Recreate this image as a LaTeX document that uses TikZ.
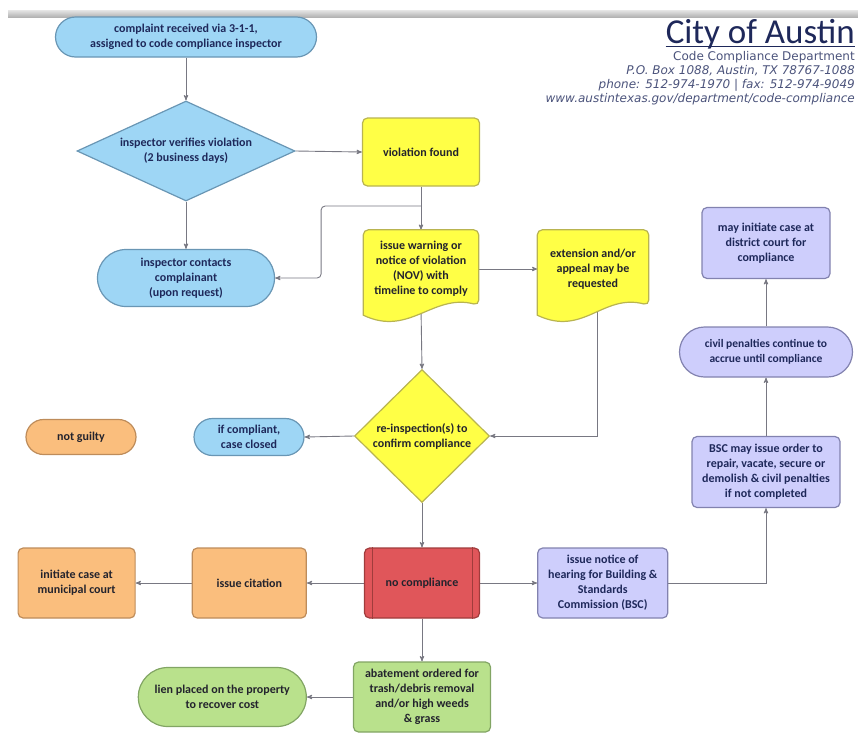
\documentclass[tikz,border=0pt]{standalone}
\usepackage{fontspec}
\setmainfont{Carlito}
\newfontfamily\headfont{DejaVu Sans}
\usetikzlibrary{shapes.geometric,shapes.misc,arrows,positioning,calc,backgrounds}

\definecolor{bluefill}{RGB}{158,214,245}
\definecolor{blueline}{RGB}{105,150,180}
\definecolor{yelfill}{RGB}{255,255,70}
\definecolor{yelline}{RGB}{185,180,80}
\definecolor{orfill}{RGB}{250,190,125}
\definecolor{orline}{RGB}{190,140,90}
\definecolor{redfill}{RGB}{224,86,90}
\definecolor{redline}{RGB}{160,60,60}
\definecolor{lavfill}{RGB}{206,206,252}
\definecolor{lavline}{RGB}{130,130,175}
\definecolor{grnfill}{RGB}{185,225,140}
\definecolor{grnline}{RGB}{130,165,100}
\definecolor{flowline}{RGB}{120,120,130}
\definecolor{navy}{RGB}{30,40,90}
\definecolor{darktext}{RGB}{35,35,45}

\tikzset{box/.style={rectangle,rounded corners=5pt,draw,line width=1.2pt,align=center,inner sep=1pt,font=\bfseries\fontsize{12}{15}\selectfont},
         capsule/.style={rounded rectangle,draw,line width=1.2pt,align=center,inner sep=1pt,font=\bfseries\fontsize{12}{15}\selectfont},
         decision/.style={diamond,draw,line width=1.2pt,inner sep=0pt},
         decision text/.style={align=center,inner sep=0pt,font=\bfseries\fontsize{12}{15}\selectfont},
         doc text/.style={rectangle,draw=none,align=center,inner sep=1pt,font=\bfseries\fontsize{12}{15}\selectfont},
         blue node/.style={fill=bluefill,draw=blueline,text=navy},
         yellow node/.style={fill=yelfill,draw=yelline,text=darktext},
         orange node/.style={fill=orfill,draw=orline,text=darktext},
         red node/.style={fill=redfill,draw=redline,text=darktext},
         purple node/.style={fill=lavfill,draw=lavline,text=navy},
         green node/.style={fill=grnfill,draw=grnline,text=darktext},
         head title/.style={anchor=base east,inner sep=0pt,text=navy,font=\fontsize{35}{35}\selectfont},
         head line/.style={anchor=base east,inner sep=0pt,text=navy!80,font=\headfont\fontsize{12}{13}\selectfont},
         flow/.style={->,draw=flowline,line width=0.9pt}
}

% document shape with a wavy bottom, drawn round a text node
\newcommand\docshape[3]{%
  \draw[fill=#2,draw=#3,line width=1.2pt,rounded corners=5pt]
    (#1.south west) -- (#1.north west) -- (#1.north east) -- ($(#1.south east)+(0,-3)$)
    [sharp corners] .. controls +(-46,-12) and +(46,22) .. ($(#1.south west)+(0,7)$) -- cycle;}

\begin{document}
\begin{tikzpicture}[x=1pt,y=-1pt,>=stealth']
\useasboundingbox (0,0) rectangle (858,734);

% header
\fill[top color=gray!20,bottom color=gray!60] (8,10) rectangle (858,17);
\node[head title] (city) at (855,43) {City of Austin};
\draw[navy,line width=0.9pt] ([yshift=-3pt]city.base west) -- ([yshift=-3pt]city.base east);
\node[head line] (dept) at (855,60) {Code Compliance Department};
\node[head line,font=\headfont\itshape\fontsize{12}{13}\selectfont] (pobox) at (855,74) {P.O. Box 1088, Austin, TX 78767-1088};
\node[head line,font=\headfont\itshape\fontsize{12}{13}\selectfont] (phone) at (855,88) {phone: 512-974-1970 | fax: 512-974-9049};
\node[head line,font=\headfont\itshape\fontsize{12}{13}\selectfont] (web) at (855,102) {www.austintexas.gov/department/code-compliance};

% intake
\node[capsule,blue node,minimum width=263pt,minimum height=40pt] (cmpl) at (186,37) {complaint received via 3-1-1,\\assigned to code compliance inspector};
\node[decision,blue node,minimum width=218pt,minimum height=100pt,
      label={[decision text,text=navy]center:inspector verifies violation\\(2 business days)}] (verify) at (186,151) {};
\node[box,yellow node,minimum width=117pt,minimum height=68pt] (found) at (421,152) {violation found};
\node[capsule,blue node,minimum width=179pt,minimum height=57pt] (contacts) at (186,278) {inspector contacts\\complainant\\(upon request)};
\node[doc text,text=darktext,minimum width=115pt,minimum height=78pt] (nov) at (421,269) {issue warning or\\notice of violation\\(NOV) with\\timeline to comply};
\node[doc text,text=darktext,minimum width=111pt,minimum height=78pt] (ext) at (593,269) {extension and/or\\appeal may be\\requested};

% re-inspection
\node[decision,yellow node,minimum width=135pt,minimum height=133pt,
      label={[decision text,text=darktext]center:re-inspection(s) to\\confirm compliance}] (reinsp) at (422,436) {};
\node[capsule,blue node,minimum width=112pt,minimum height=37pt] (closed) at (249,437) {if compliant,\\case closed};
\node[capsule,orange node,minimum width=112pt,minimum height=35pt] (notguilty) at (81,437) {not guilty};

% no compliance row
\node[box,red node,minimum width=115pt,minimum height=70pt] (nocomp) at (422,583) {no compliance};
\draw[redline,line width=0.8pt] ([xshift=8pt]nocomp.north west) -- ([xshift=8pt]nocomp.south west);
\draw[redline,line width=0.8pt] ([xshift=-8pt]nocomp.north east) -- ([xshift=-8pt]nocomp.south east);
\node[box,orange node,minimum width=114pt,minimum height=70pt,left=57pt of nocomp] (citation) {issue citation};
\node[box,orange node,minimum width=117pt,minimum height=70pt,left=56pt of citation] (municipal) {initiate case at\\municipal court};
\node[box,purple node,minimum width=130pt,minimum height=70pt,right=57pt of nocomp] (notice) {issue notice of\\hearing for Building \&\\Standards\\Commission (BSC)};

% BSC column
\node[box,purple node,minimum width=148pt,minimum height=71pt] (bsc) at (766,472) {BSC may issue order to\\repair, vacate, secure or\\demolish \& civil penalties\\if not completed};
\node[capsule,purple node,minimum width=175pt,minimum height=50pt,font=\bfseries\fontsize{11.5}{14.5}\selectfont] (civil) at (766,352) {civil penalties continue to\\accrue until compliance};
\node[box,purple node,minimum width=128pt,minimum height=71pt] (district) at (766,243) {may initiate case at\\district court for\\compliance};

% abatement
\node[box,green node,minimum width=137pt,minimum height=70pt] (abate) at (422,697) {abatement ordered for\\trash/debris removal\\and/or high weeds\\\& grass};
\node[capsule,green node,minimum width=170pt,minimum height=59pt,left=46pt of abate] (lien) {lien placed on the property\\to recover cost};

\coordinate (split) at ($(found.south)!0.45!(nov.north)$);

\begin{scope}[on background layer]
\draw[flow] (cmpl.south) -- (verify.north);
\draw[flow] (verify.east) -- (found.west);
\draw[flow] (verify.south) -- (contacts.north);
\draw[flow] (found.south) -- (nov.north);
\draw[flow,rounded corners=4pt] (split) -| ([xshift=46pt]contacts.east) -- (contacts.east);
\draw[flow] (nov.east) -- (ext.west);
\draw[flow] (nov.south) -- (reinsp.north);
\draw[flow] ([xshift=4pt]ext.south) |- (reinsp.east);
\draw[flow] (reinsp.west) -- (closed.east);
\draw[flow] (reinsp.south) -- (nocomp.north);
\draw[flow] (nocomp.west) -- (citation.east);
\draw[flow] (citation.west) -- (municipal.east);
\draw[flow] (nocomp.east) -- (notice.west);
\draw[flow] (notice.east) -| (bsc.south);
\draw[flow] (bsc.north) -- (civil.south);
\draw[flow] (civil.north) -- (district.south);
\draw[flow] (nocomp.south) -- (abate.north);
\draw[flow] (abate.west) -- (lien.east);
\docshape{nov}{yelfill}{yelline}
\docshape{ext}{yelfill}{yelline}
\end{scope}
\end{tikzpicture}
\end{document}
